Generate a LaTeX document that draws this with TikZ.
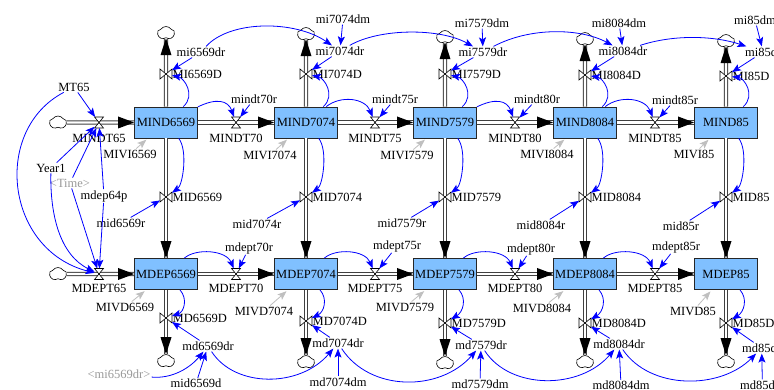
\documentclass[tikz,border=0pt]{standalone}
\usepackage{fontspec}
\setmainfont{Liberation Serif}
\usetikzlibrary{arrows.meta,shapes.symbols}
\definecolor{stockfill}{RGB}{128,192,255}
\definecolor{linkblue}{RGB}{0,0,255}
\tikzset{
  parR/.pic={\fill[black] (0,0) -- (-16,-6) -- (-16,6) -- cycle;},
  parD/.pic={\fill[black] (0,0) -- (-5.5,-17) -- (5.5,-17) -- cycle;},
  parU/.pic={\fill[black] (0,0) -- (-5.5,17) -- (5.5,17) -- cycle;},
}
\begin{document}
\begin{tikzpicture}[x=1pt,y=-1pt,
  font=\fontsize{12.5}{14}\selectfont,
  stockbox/.style={draw=black!85,fill=stockfill,line width=0.8pt,minimum width=63pt,minimum height=31pt,inner sep=0pt},
  lbl/.style={inner sep=1pt},
  shadowlbl/.style={inner sep=1pt,text=black!40},
  hvalve/.style={minimum width=9pt,minimum height=11pt,inner sep=0pt,outer sep=0pt},
  vvalve/.style={minimum width=12pt,minimum height=10pt,inner sep=0pt,outer sep=0pt},
  valveshape/.style={draw=black,fill=white,line width=0.6pt},
  cloudn/.style={cloud,draw=black,fill=white,cloud puffs=5,cloud puff arc=110,aspect=1.35,minimum width=17pt,minimum height=13pt,inner sep=0pt,line width=0.6pt},
  pipeline/.style={draw=black!75,line width=0.9pt,double=white,double distance=2.4pt},
  conn/.style={draw=linkblue,line width=0.8pt,-{Stealth[length=9pt,width=7pt,inset=2pt]}},
  gconn/.style={draw=black!25,line width=0.8pt,shorten >=2pt,-{Stealth[length=9pt,width=7pt,inset=2pt]}},
]
\fill[white] (0,0) rectangle (774,390);
\useasboundingbox (0,0) rectangle (774,390);

% stocks, clouds, vertical valves
\foreach \n/\c/\tv/\tc/\bv/\bc in {6569/166/74/33/318/361, 7074/306/74/34/321/362, 7579/445/74/37/323/363, 8084/585/75/39/323/362, 85/726/76/41/323/362}{
  \node[stockbox] (MIND\n) at (\c,122.5) {MIND\n};
  \node[stockbox] (MDEP\n) at (\c,274) {MDEP\n};
  \node[cloudn] (cT\n) at (\c,\tc) {};
  \node[cloudn] (cB\n) at (\c,\bc) {};
  \node[vvalve] (vT\n) at (\c,\tv) {};
  \node[vvalve] (vM\n) at (\c,197) {};
  \node[vvalve] (vB\n) at (\c,\bv) {};
  \node[lbl,anchor=west] (tMI\n D) at ({\c+5.5},\tv) {MI\n D};
  \node[lbl,anchor=west] (tMID\n) at ({\c+5.5},197) {MID\n};
  \node[lbl,anchor=west] (tMD\n D) at ({\c+5.5},\bv) {MD\n D};
}
% horizontal valves
\foreach \k/\x in {65/99,70/236,75/375,80/515,85/655}{
  \node[hvalve] (vI\k) at (\x,122.5) {};
  \node[hvalve] (vE\k) at (\x,274) {};
  \node[lbl] (tMINDT\k) at (\x,138) {MINDT\k};
  \node[lbl] (tMDEPT\k) at (\x,288.5) {MDEPT\k};
}
\node[cloudn] (cL1) at (58,122.5) {};
\node[cloudn] (cL2) at (58,274) {};

% variables
\node[lbl] (MT65) at (74,87) {MT65};
\node[lbl] (Year1) at (51,168) {Year1};
\node[shadowlbl] (Time) at (70,183) {<Time>};
\node[lbl] (mdep64p) at (104,196) {mdep64p};
\node[shadowlbl] (smi6569dr) at (119,374) {<mi6569dr>};
\node[lbl] (mid6569d) at (196,383.5) {mid6569d};

\node[lbl] (mi6569dr) at (201,52) {mi6569dr};
\node[lbl] (mi7074dr) at (340,51) {mi7074dr};
\node[lbl] (mi7579dr) at (483,52) {mi7579dr};
\node[lbl] (mi8084dr) at (623,51) {mi8084dr};
\node[lbl,anchor=west] (mi85dr) at (744,52) {mi85dr};
\node[lbl] (mi7074dm) at (343,19) {mi7074dm};
\node[lbl] (mi7579dm) at (482,23) {mi7579dm};
\node[lbl] (mi8084dm) at (619,23) {mi8084dm};
\node[lbl,anchor=west] (mi85dm) at (733,20) {mi85dm};

\node[lbl] (mindt70r) at (254,99) {mindt70r};
\node[lbl] (mindt75r) at (395,99) {mindt75r};
\node[lbl] (mindt80r) at (537,99) {mindt80r};
\node[lbl] (mindt85r) at (675,100) {mindt85r};

\node[lbl] (MIVI6569) at (130,154) {MIVI6569};
\node[lbl] (MIVI7074) at (270,155) {MIVI7074};
\node[lbl] (MIVI7579) at (407,155) {MIVI7579};
\node[lbl] (MIVI8084) at (547,154) {MIVI8084};
\node[lbl] (MIVI85) at (694,154) {MIVI85};

\node[lbl] (mid6569r) at (121,223) {mid6569r};
\node[lbl] (mid7074r) at (257,224) {mid7074r};
\node[lbl] (mid7579r) at (402,223) {mid7579r};
\node[lbl] (mid8084r) at (541,225) {mid8084r};
\node[lbl] (mid85r) at (681,226) {mid85r};

\node[lbl] (mdept70r) at (249,248) {mdept70r};
\node[lbl] (mdept75r) at (397,246) {mdept75r};
\node[lbl] (mdept80r) at (531,249) {mdept80r};
\node[lbl] (mdept85r) at (676,247) {mdept85r};

\node[lbl] (MIVD6569) at (125,307) {MIVD6569};
\node[lbl] (MIVD7074) at (264,311) {MIVD7074};
\node[lbl] (MIVD7579) at (405,307) {MIVD7579};
\node[lbl] (MIVD8084) at (542,308) {MIVD8084};
\node[lbl] (MIVD85) at (693,311) {MIVD85};

\node[lbl] (md6569dr) at (208,346) {md6569dr};
\node[lbl] (md7074dr) at (338,343) {md7074dr};
\node[lbl] (md7579dr) at (481,345) {md7579dr};
\node[lbl] (md8084dr) at (619,344) {md8084dr};
\node[lbl,anchor=west] (md85dr) at (741,348) {md85dr};
\node[lbl] (md7074dm) at (338,382) {md7074dm};
\node[lbl] (md7579dm) at (480,384) {md7579dm};
\node[lbl] (md8084dm) at (621,385.5) {md8084dm};
\node[lbl,anchor=west] (md85dm) at (739,385) {md85dm};

% pipes
\draw[pipeline] (cL1) -- (MIND6569);
\draw[pipeline] (MIND6569) -- (MIND7074);
\draw[pipeline] (MIND7074) -- (MIND7579);
\draw[pipeline] (MIND7579) -- (MIND8084);
\draw[pipeline] (MIND8084) -- (MIND85);
\draw[pipeline] (cL2) -- (MDEP6569);
\draw[pipeline] (MDEP6569) -- (MDEP7074);
\draw[pipeline] (MDEP7074) -- (MDEP7579);
\draw[pipeline] (MDEP7579) -- (MDEP8084);
\draw[pipeline] (MDEP8084) -- (MDEP85);
\foreach \n in {6569,7074,7579,8084,85}{
  \draw[pipeline] (MIND\n) -- (cT\n);
  \draw[pipeline] (MIND\n) -- (MDEP\n);
  \draw[pipeline] (MDEP\n) -- (cB\n);
}
% valves
\foreach \v in {vI65,vI70,vI75,vI80,vI85,vE65,vE70,vE75,vE80,vE85}
  \draw[valveshape] (\v.north west) -- (\v.north east) -- (\v.south west) -- (\v.south east) -- cycle;
\foreach \n in {6569,7074,7579,8084,85}{
  \foreach \v in {vT\n,vM\n,vB\n}
    \draw[valveshape] (\v.north west) -- (\v.south west) -- (\v.north east) -- (\v.south east) -- cycle;
}
% pipe arrowheads
\foreach \n in {6569,7074,7579,8084,85}{
  \pic at (MIND\n.west) {parR};
  \pic at (MDEP\n.west) {parR};
  \pic at (cT\n.south) {parU};
  \pic at (MDEP\n.north) {parD};
  \pic at (cB\n.north) {parD};
}

% links within columns
\foreach \n/\c in {6569/166,7074/306,7579/445,8084/585,85/726}{
  \draw[conn] (MIND\n) .. controls ({\c+30},95) and ({\c+18},78) .. (vT\n);
  \draw[conn] (MIND\n) .. controls ({\c+22},150) and ({\c+17},185) .. (vM\n);
  \draw[conn] (MDEP\n) .. controls ({\c+22},299) and ({\c+18},312) .. (vB\n);
  \draw[gconn] (MIVI\n) -- (MIND\n);
  \draw[gconn] (MIVD\n) -- (MDEP\n);
  \draw[conn] (mi\n dr) -- (vT\n);
  \draw[conn] (mid\n r) -- (vM\n);
  \draw[conn] (md\n dr) -- (vB\n);
}
\draw[conn] (MIND6569) .. controls (216,98) and (228,100) .. (vI70);
\draw[conn] (MIND7074) .. controls (341,95) and (365,98) .. (vI75);
\draw[conn] (MIND7579) .. controls (495,98) and (507,100) .. (vI80);
\draw[conn] (MIND8084) .. controls (620,95) and (645,98) .. (vI85);
\draw[conn] (MDEP6569) .. controls (196,248) and (226,250) .. (vE70);
\draw[conn] (MDEP7074) .. controls (336,248) and (365,250) .. (vE75);
\draw[conn] (MDEP7579) .. controls (475,248) and (505,250) .. (vE80);
\draw[conn] (MDEP8084) .. controls (615,248) and (645,250) .. (vE85);
\draw[conn] (mindt70r) -- (vI70);
\draw[conn] (mindt75r) -- (vI75);
\draw[conn] (mindt80r) -- (vI80);
\draw[conn] (mindt85r) -- (vI85);
\draw[conn] (mdept70r) -- (vE70);
\draw[conn] (mdept75r) -- (vE75);
\draw[conn] (mdept80r) -- (vE80);
\draw[conn] (mdept85r) -- (vE85);
\draw[conn] (mi7074dm) -- (mi7074dr);
\draw[conn] (mi7579dm) -- (mi7579dr);
\draw[conn] (mi8084dm) -- (mi8084dr);
\draw[conn] (mi85dm) -- (mi85dr);
\draw[conn] (md7074dm) -- (md7074dr);
\draw[conn] (md7579dm) -- (md7579dr);
\draw[conn] (md8084dm) -- (md8084dr);
\draw[conn] (md85dm) -- (md85dr);
\draw[conn] (mid6569d) -- (md6569dr);
\draw[conn] (smi6569dr) .. controls (172,379) and (190,368) .. (md6569dr);
% chains top and bottom
\draw[conn] (mi6569dr) .. controls (230,20) and (295,20) .. (mi7074dr);
\draw[conn] (mi7074dr) .. controls (380,28) and (440,28) .. (mi7579dr);
\draw[conn] (mi7579dr) .. controls (530,27) and (580,28) .. (mi8084dr);
\draw[conn] (mi8084dr) .. controls (675,34) and (715,36) .. (mi85dr);
\draw[conn] (md6569dr) .. controls (235,388) and (300,388) .. (md7074dr);
\draw[conn] (md7074dr) .. controls (370,392) and (440,392) .. (md7579dr);
\draw[conn] (md7579dr) .. controls (510,390) and (580,390) .. (md8084dr);
\draw[conn] (md8084dr) .. controls (650,390) and (720,390) .. (md85dr);
% left inputs
\draw[conn] (MT65) -- (vI65);
\draw[conn] (Year1) -- (vI65);
\draw[conn] (Time) -- (vI65);
\draw[conn] (mdep64p) -- (vI65);
\draw[conn] (MT65) .. controls (-8,130) and (5,250) .. (vE65);
\draw[conn] (Year1) .. controls (50,215) and (60,255) .. (vE65);
\draw[conn] (Time) -- (vE65);
\draw[conn] (mdep64p) -- (vE65);
\end{tikzpicture}
\end{document}
